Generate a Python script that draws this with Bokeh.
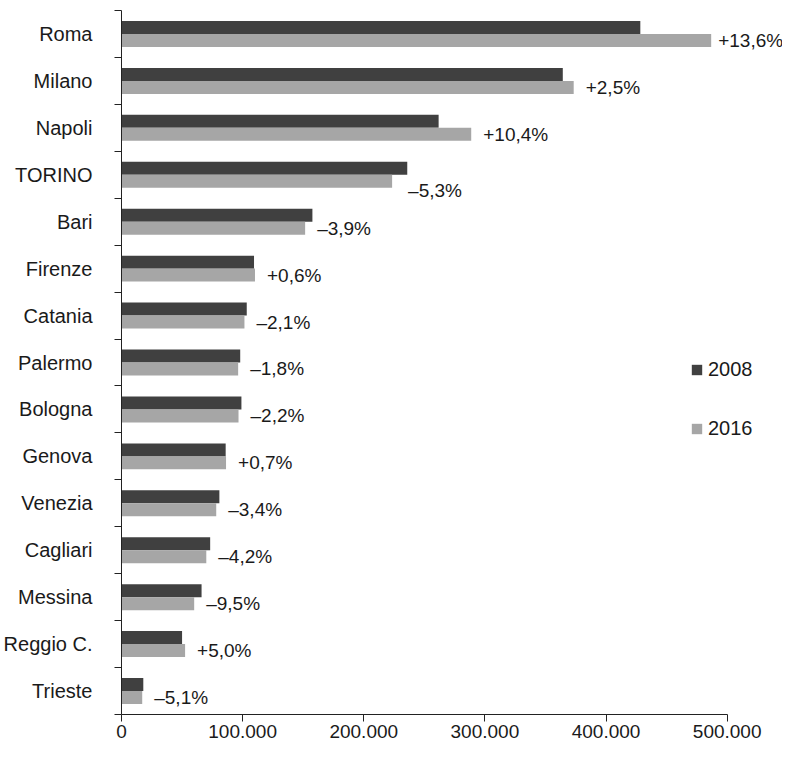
from bokeh.plotting import figure
from bokeh.models import Range1d, FixedTicker, Legend, LegendItem, ColumnDataSource
from bokeh.core.properties import value
from bokeh.embed import file_html
from bokeh.resources import INLINE

cities = ["Roma", "Milano", "Napoli", "TORINO", "Bari", "Firenze", "Catania", "Palermo",
          "Bologna", "Genova", "Venezia", "Cagliari", "Messina", "Reggio C.", "Trieste"]
v2008 = [428300, 364300, 261800, 235900, 157600, 109400, 103400, 98000,
         99000, 86000, 80800, 73200, 66100, 50000, 18000]
v2016 = [486800, 373300, 288700, 223400, 151600, 110200, 101500, 96300,
         96600, 86300, 78200, 70000, 60000, 52500, 17100]
changes = ["+13,6%", "+2,5%", "+10,4%", "\u20135,3%", "\u20133,9%", "+0,6%", "\u20132,1%", "\u20131,8%",
           "\u20132,2%", "+0,7%", "\u20133,4%", "\u20134,2%", "\u20139,5%", "+5,0%", "\u20135,1%"]
x_ticks = [0, 100000, 200000, 300000, 400000, 500000]
series_names = ["2008", "2016"]

FONT = "Liberation Sans"
FS = "20px"
DARK = "#404040"
LIGHT = "#a6a6a6"
TXT = "#1a1a1a"

W, H = 782, 746
LEFT, TOP, BOTTOM = 113, 10, 32
AXIS_PX = 613  # pixels spanned by 0..500000
frame_w = W - LEFT
x_end = 500000 * frame_w / AXIS_PX

n = len(cities)
centers = [n - i - 0.5 for i in range(n)]
bh = 0.277
off = 0.138

p = figure(width=W, height=H, output_backend="svg", toolbar_location=None,
           x_range=Range1d(0, x_end), y_range=Range1d(0, n),
           min_border_left=LEFT, min_border_right=0, min_border_top=TOP, min_border_bottom=BOTTOM)
p.outline_line_color = None
p.xgrid.visible = False
p.ygrid.visible = False

src = ColumnDataSource(dict(
    y1=[c + off for c in centers], y2=[c - off for c in centers],
    v1=v2008, v2=v2016, lab=changes,
    lx=[{"TORINO": 16, "Roma": 7}.get(c, 12) for c in cities],
    ly=[9 if c == "TORINO" else 0 for c in cities],
))

r1 = p.hbar(y="y1", right="v1", left=0, height=bh, source=src, fill_color=DARK, line_color=None)
r2 = p.hbar(y="y2", right="v2", left=0, height=bh, source=src, fill_color=LIGHT, line_color=None)

p.text(x="v2", y="y2", text="lab", x_offset="lx", y_offset="ly", source=src,
       text_font=value(FONT), text_font_size="19px", text_color=TXT,
       text_align="left", text_baseline="middle")

# x axis
xa = p.xaxis[0]
xa.bounds = (0, 500000)
xa.ticker = FixedTicker(ticks=x_ticks, minor_ticks=[])
xa.major_label_overrides = {t: f"{t:,}".replace(",", ".") for t in x_ticks}
xa.major_tick_out = 7
xa.major_tick_in = 0
xa.minor_tick_out = 0
xa.minor_tick_in = 0
xa.major_label_standoff = 3
xa.axis_line_color = "#222222"
xa.major_tick_line_color = "#222222"
xa.major_label_text_font = FONT
xa.major_label_text_font_size = "19px"
xa.major_label_text_color = TXT

# y axis
ya = p.yaxis[0]
ya.ticker = FixedTicker(ticks=centers, minor_ticks=list(range(0, n + 1)))
ya.major_label_overrides = {c: name for c, name in zip(centers, cities)}
ya.major_tick_out = 0
ya.major_tick_in = 0
ya.minor_tick_out = 7
ya.minor_tick_in = 0
ya.minor_tick_line_color = "#222222"
ya.major_label_standoff = 22
ya.axis_line_color = "#222222"
ya.major_label_text_font = FONT
ya.major_label_text_font_size = FS
ya.major_label_text_color = TXT

legend = Legend(items=[LegendItem(label=series_names[0], renderers=[r1]),
                       LegendItem(label=series_names[1], renderers=[r2])],
                location=(569, 274), orientation="vertical",
                glyph_width=13, glyph_height=13, label_standoff=5,
                spacing=36, padding=0, margin=0,
                border_line_alpha=0, background_fill_alpha=0,
                label_text_font=FONT, label_text_font_size=FS, label_text_color=TXT)
p.add_layout(legend)

open("out.html", "w").write(file_html(p, INLINE))
